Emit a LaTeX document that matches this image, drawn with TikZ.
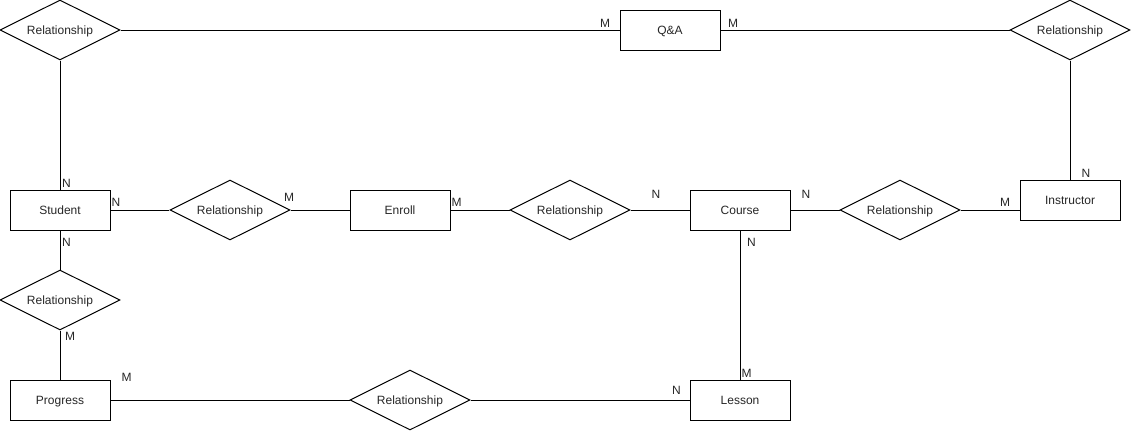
\documentclass[tikz,border=0pt]{standalone}
\usepackage{fontspec}
\setmainfont{Liberation Sans}
\usetikzlibrary{shapes.geometric}
\tikzset{
  entity/.style={draw, rectangle, minimum width=100pt, minimum height=40pt, inner sep=0pt,
    text height=11pt, text depth=2pt},
  relation/.style={draw, diamond, aspect=2, minimum width=120pt, minimum height=60pt, inner sep=0pt,
    text height=11pt, text depth=2pt},
  card/.style={inner sep=0pt},
}
\begin{document}
\begin{tikzpicture}[x=1pt, y=-1pt, line width=1pt, text=black!85,
    font=\fontsize{12}{14}\selectfont]
      \useasboundingbox (0,0) rectangle (1133,432);
      \draw
        (60,30) node[relation] (r0){Relationship}
        (670,30) node[entity] (qa){Q\&A}
        (1070,30) node[relation] (r1){Relationship}
        (60,210) node[entity] (student){Student}
        (230,210) node[relation] (r2){Relationship}
        (400,210) node[entity] (enroll){Enroll}
        (570,210) node[relation] (r3){Relationship}
        (740,210) node[entity] (course){Course}
        (900,210) node[relation] (r4){Relationship}
        (1070,200) node[entity] (instructor){Instructor}
        (60,300) node[relation] (r5){Relationship}
        (60,400) node[entity] (progress){Progress}
        (410,400) node[relation] (r6){Relationship}
        (740,400) node[entity] (lesson){Lesson};
      \begin{scope}[-]
        \draw (r0) to (qa);
        \draw (qa) to (r1);
        \draw (r0) to (student);
        \draw (r1) to (instructor);
        \draw (student) to (r2);
        \draw (r2) to (enroll);
        \draw (enroll) to (r3);
        \draw (r3) to (course);
        \draw (course) to (r4);
        \draw (r4.east) to (r4.east -| instructor.west);
        \draw (student) to (r5);
        \draw (r5) to (progress);
        \draw (progress) to (r6);
        \draw (r6) to (lesson);
        \draw (course) to (lesson);
      \end{scope}
      \draw
        (605,23) node[card] (m0){M}
        (733,23) node[card] (m1){M}
        (66.5,183) node[card] (n0){N}
        (116,202.5) node[card] (n1){N}
        (289,197) node[card] (m2){M}
        (456.5,202.5) node[card] (m3){M}
        (656,194) node[card] (n2){N}
        (806,194) node[card] (n3){N}
        (1005,202) node[card] (m4){M}
        (1086,173) node[card] (n4){N}
        (66.5,242.5) node[card] (n5){N}
        (70,336) node[card] (m5){M}
        (126.5,377) node[card] (m6){M}
        (676.5,390) node[card] (n6){N}
        (751.5,242) node[card] (n7){N}
        (746.5,373) node[card] (m7){M};
    \end{tikzpicture}
\end{document}
